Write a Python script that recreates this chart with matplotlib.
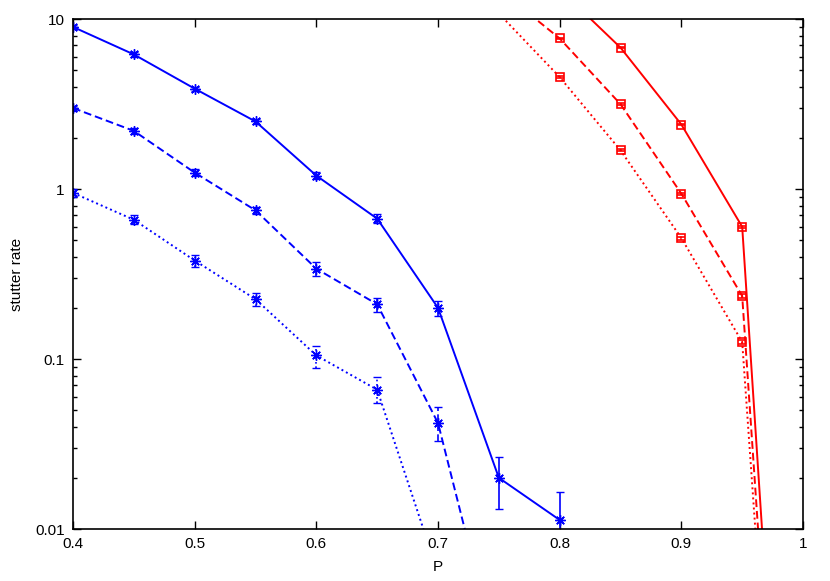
import numpy as np
import matplotlib.pyplot as plt
from matplotlib.ticker import FixedLocator, FixedFormatter, LogLocator, NullFormatter

plt.rcParams['font.family'] = ['Liberation Sans Narrow', 'Liberation Sans', 'DejaVu Sans']

# --- datos
p_blue = [0.40, 0.45, 0.50, 0.55, 0.60, 0.65, 0.70, 0.75, 0.80]
blue_solid = [9.0, 6.2, 3.9, 2.5, 1.2, 0.67, 0.20, 0.020, 0.0113]
blue_solid_lo = [0.3, 0.2, 0.1, 0.08, 0.06, 0.04, 0.02, 0.0068, 0.004]
blue_solid_hi = [0.3, 0.2, 0.1, 0.08, 0.06, 0.04, 0.02, 0.0065, 0.0052]

p_blue_dash = [0.40, 0.45, 0.50, 0.55, 0.60, 0.65, 0.70, 0.75]
blue_dash = [3.0, 2.2, 1.25, 0.75, 0.34, 0.21, 0.042, 0.0016]
blue_dash_lo = [0.1, 0.08, 0.06, 0.04, 0.03, 0.02, 0.009, 0.0003]
blue_dash_hi = [0.1, 0.08, 0.06, 0.04, 0.03, 0.02, 0.010, 0.0003]

p_blue_dot = [0.40, 0.45, 0.50, 0.55, 0.60, 0.65, 0.70]
blue_dot = [0.95, 0.66, 0.38, 0.225, 0.105, 0.066, 0.0055]
blue_dot_lo = [0.05, 0.04, 0.03, 0.02, 0.017, 0.011, 0.001]
blue_dot_hi = [0.05, 0.04, 0.03, 0.02, 0.015, 0.012, 0.001]

p_red = [0.75, 0.80, 0.85, 0.90, 0.95, 1.00]
red_solid = [70.0, 15.0, 6.8, 2.4, 0.60, 2.1e-6]
red_dash = [15.0, 7.7, 3.16, 0.94, 0.235, 1.3e-6]
red_dot = [10.8, 4.56, 1.69, 0.515, 0.126, 1.0e-6]
red_err_solid = [0.8, 0.15, 0.07, 0.03, 0.01, 0.0]
red_err_dash = [0.2, 0.1, 0.04, 0.015, 0.006, 0.0]
red_err_dot = [0.15, 0.06, 0.025, 0.01, 0.004, 0.0]

x_ticks = [0.4, 0.5, 0.6, 0.7, 0.8, 0.9, 1.0]
x_labels = ['0.4', '0.5', '0.6', '0.7', '0.8', '0.9', '1']
y_ticks = [0.01, 0.1, 1, 10]
y_labels = ['0.01', '0.1', '1', '10']

BLUE = '#0000ff'
RED = '#ff0000'
dashed = (0, (4, 2))
dotted = (0, (1, 1.6))

fig = plt.figure(figsize=(8.3, 5.81), dpi=100)
ax = fig.add_axes([0.088, 0.0895, 0.8795, 0.8775])


def serie(x, y, lo, hi, color, ls, marker, ms, mew):
    cont = ax.errorbar(x, y, yerr=[lo, hi], color=color, ls=ls, lw=1.4,
                       marker=marker, ms=ms, mfc='none', mew=mew,
                       capsize=3, elinewidth=1.2, capthick=1.2)
    for lc in cont[2]:
        lc.set_linestyle(ls)
    return cont


# asterisco estilo gnuplot (+ y x superpuestos)
ast = (8, 2, 0)
serie(p_blue, blue_solid, blue_solid_lo, blue_solid_hi, BLUE, '-', ast, 7.5, 1.0)
serie(p_blue_dash, blue_dash, blue_dash_lo, blue_dash_hi, BLUE, dashed, ast, 7.5, 1.0)
serie(p_blue_dot, blue_dot, blue_dot_lo, blue_dot_hi, BLUE, dotted, ast, 7.5, 1.0)

serie(p_red, red_solid, red_err_solid, red_err_solid, RED, '-', 's', 6, 1.2)
serie(p_red, red_dash, red_err_dash, red_err_dash, RED, dashed, 's', 6, 1.2)
serie(p_red, red_dot, red_err_dot, red_err_dot, RED, dotted, 's', 6, 1.2)

ax.set_yscale('log')
ax.set_xlim(0.4, 1.0)
ax.set_ylim(0.01, 10)

ax.xaxis.set_major_locator(FixedLocator(x_ticks))
ax.xaxis.set_major_formatter(FixedFormatter(x_labels))
ax.yaxis.set_major_locator(FixedLocator(y_ticks))
ax.yaxis.set_major_formatter(FixedFormatter(y_labels))
ax.yaxis.set_minor_locator(LogLocator(base=10, subs=np.arange(2, 10)))
ax.yaxis.set_minor_formatter(NullFormatter())

ax.tick_params(which='both', direction='in', top=True, right=True, labelsize=11, pad=6)
ax.tick_params(which='major', length=6, width=1)
ax.tick_params(which='minor', length=3, width=1)
for s in ax.spines.values():
    s.set_linewidth(1.2)

ax.set_xlabel('P', fontsize=11, labelpad=6)
ax.set_ylabel('stutter rate', fontsize=11, labelpad=8)

fig.savefig('out.png', dpi=100)
